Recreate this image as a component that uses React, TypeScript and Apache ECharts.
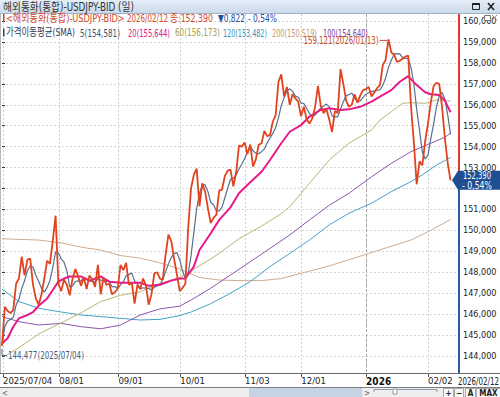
import React, { useEffect, useRef } from 'react';
import * as echarts from 'echarts';

const FONT = "'DejaVu Sans Condensed','Noto Sans CJK KR',sans-serif";

const START_DATE = '2025-07-04';
const END_DATE = '2026-02-12';
const PAD_SLOTS = ['', '', ''];

const TICK_LABELS: Record<string, string> = {
  '2025-07-04': '2025/07/04',
  '2025-08-01': '08/01',
  '2025-09-01': '09/01',
  '2025-10-01': '10/01',
  '2025-11-03': '11/03',
  '2025-12-01': '12/01',
  '2026-01-01': '2026',
  '2026-02-02': '02/02',
};
const YEAR_START = '2026-01-01';

const Y_MIN = 144;
const Y_MAX = 160;

const CLOSE = [
  144.477, 146.35, 146.15, 146.05, 146.2, 147.45, 147.7, 148.75, 147.85, 148.6,
  148.65, 147.4, 146.75, 146.45, 146.95, 147.7, 148.55, 148.4, 149.5, 150.7,
  147.45, 147.1, 147.65, 147.4, 146.9, 147.7, 148.15, 147.8, 147.35, 147.75,
  147.2, 147.85, 147.65, 147.3, 148.35, 146.95, 147.75, 147.4, 147.45, 146.95,
  147.05, 147.2, 148.35, 148.1, 148.45, 147.4, 147.5, 146.5, 147.4, 147.2,
  147.7, 147.4, 146.45, 146.95, 147.95, 148.0, 147.7, 147.65, 148.85, 149.8,
  149.5, 148.65, 147.9, 147.1, 147.25, 147.45, 150.1, 152.0, 152.65, 152.95,
  151.15, 152.25, 151.85, 151.05, 150.35, 150.6, 150.75, 151.9, 151.95, 152.6,
  152.85, 152.9, 152.1, 152.75, 154.05, 154.0, 154.2, 153.65, 154.1, 153.05,
  153.4, 154.1, 154.15, 154.75, 154.5, 154.55, 155.2, 155.5, 157.1, 157.45,
  156.4, 156.85, 156.0, 156.5, 156.3, 156.15, 155.45, 155.9, 155.3, 155.1,
  155.35, 155.9, 156.9, 155.95, 155.6, 155.8, 155.3, 154.7, 155.7, 155.6,
  157.7, 157.0, 156.2, 155.9, 156.0, 156.5, 156.1, 156.45, 156.7, 156.75,
  156.85, 156.4, 156.6, 156.8, 156.95, 157.9, 158.15, 159.121, 158.5, 158.4,
  158.05, 158.1, 158.2, 158.3, 158.35, 155.9, 154.2, 152.2, 153.3, 153.1,
  154.25, 155.1, 156.1, 156.9, 157.05, 157.0, 155.9, 154.4, 153.212, 152.39,
];

// moving averages: [trading-day index, value]
const MA20 = [
  [0, 144.6], [2, 144.85], [4, 145.4], [6, 145.8], [9, 145.96], [11, 146.1], [13, 146.4], [16, 146.75],
  [18, 147.15], [20, 147.55], [22, 147.7], [24, 147.8], [28, 147.8], [31, 147.6], [35, 147.8], [38, 147.55],
  [42, 147.5], [45, 147.5], [49, 147.5], [52, 147.35], [56, 147.4], [60, 147.6], [63, 147.7], [65, 147.7],
  [68, 148.27], [70, 149.06], [74, 149.86], [77, 150.5], [81, 151.1], [84, 151.77], [88, 152.3], [92, 152.8],
  [95, 153.36], [99, 154.16], [102, 154.71], [106, 155.03], [109, 155.43], [113, 155.75], [116, 155.83],
  [120, 155.75], [123, 155.78], [127, 155.9], [131, 156.15], [134, 156.39], [138, 156.7], [141, 157.1],
  [144, 157.37], [147, 156.94], [150, 156.6], [152, 156.5], [155, 156.47], [157, 156.2], [159, 155.644],
];
const MA60 = [
  [0, 143.9], [6, 144.4], [13, 145.05], [21, 145.58], [28, 146.06], [35, 146.6], [42, 146.9], [49, 147.07],
  [56, 147.47], [63, 147.75], [70, 148.3], [77, 148.9], [84, 149.6], [92, 150.2], [99, 150.8], [102, 151.13],
  [109, 152.25], [116, 153.36], [123, 154.16], [127, 154.48], [131, 154.8], [134, 155.27], [138, 155.67],
  [142, 156.07], [145, 156.1], [150, 156.07], [154, 156.23], [159, 156.173],
];
const MA120 = [
  [0, 147.2], [6, 146.6], [13, 146.28], [21, 146.1], [28, 145.96], [35, 145.88], [42, 145.8], [49, 145.72],
  [56, 145.75], [63, 145.93], [67, 146.1], [74, 146.5], [81, 147.0], [88, 147.55], [95, 148.27], [102, 148.9],
  [109, 149.54], [116, 150.26], [123, 150.82], [131, 151.3], [138, 151.85], [145, 152.33], [149, 152.65],
  [154, 153.12], [159, 153.482],
];
const MA200 = [
  [0, 149.6], [6, 149.57], [13, 149.54], [21, 149.4], [28, 149.2], [35, 149.06], [42, 148.8], [49, 148.67],
  [56, 148.45], [63, 148.15], [70, 147.75], [77, 147.63], [84, 147.6], [92, 147.6], [99, 147.7], [106, 147.95],
  [116, 148.3], [123, 148.6], [130, 148.9], [137, 149.2], [145, 149.54], [152, 150.0], [159, 150.519],
];
const MA100 = [
  [0, 145.88], [6, 145.64], [13, 145.48], [21, 145.56], [28, 145.4], [35, 145.3], [42, 145.48], [49, 145.96],
  [56, 146.25], [63, 146.38], [67, 146.67], [74, 147.24], [81, 147.87], [88, 148.5], [95, 149.14], [102, 149.78],
  [109, 150.5], [116, 151.2], [123, 151.77], [131, 152.56], [138, 153.2], [145, 153.76], [152, 154.16],
  [157, 154.45], [159, 154.64],
];

const LEGEND_MA = [
  { text: '5(154,581)', color: '#3e4f6e' },
  { text: '20(155,644)', color: '#e0207f' },
  { text: '60(156,173)', color: '#a7a04e' },
  { text: '120(153,482)', color: '#3596bd' },
  { text: '200(150,519)', color: '#c39a7a' },
  { text: '100(154,640)', color: '#7d3f9b' },
];
// [left x, width] of each legend entry in the reference
const LEGEND_MA_BOX = [[80, 40], [128, 42], [175, 45], [223, 44], [272, 45], [323, 45]];

const COLORS = {
  price: '#e2431f',
  ma5: '#56708f',
  ma20: '#e8198a',
  ma60: '#b9b577',
  ma120: '#45a3c9',
  ma200: '#cfab8f',
  ma100: '#8e55ad',
};

function tradingDays(start: string, end: string): string[] {
  const out: string[] = [];
  const d = new Date(start + 'T00:00:00Z');
  const e = new Date(end + 'T00:00:00Z');
  while (d <= e) {
    const w = d.getUTCDay();
    if (w !== 0 && w !== 6) out.push(d.toISOString().slice(0, 10));
    d.setUTCDate(d.getUTCDate() + 1);
  }
  return out;
}

const fmtNum = (v: number) => v.toFixed(3).replace('.', ',');

export default function App() {
  const ref = useRef<HTMLDivElement>(null);
  useEffect(() => {
    const el = ref.current!;
    const chart = echarts.init(el, null, { renderer: 'svg' });
    const dates = tradingDays(START_DATE, END_DATE);
    const cats = dates.concat(PAD_SLOTS);
    const xMax = cats.length - 1;
    const isTick = (i: number) => TICK_LABELS[cats[i]] !== undefined;
    const n = CLOSE.length;
    const last = CLOSE[n - 1];
    const prev = CLOSE[n - 2];
    const chg = prev - last;
    const pct = '- ' + ((chg / prev) * 100).toFixed(2).replace('.', ',') + '%';
    const ma5 = CLOSE.map((_, i) => {
      const s = CLOSE.slice(Math.max(0, i - 4), i + 1);
      return [i, s.reduce((a, b) => a + b, 0) / s.length];
    });
    const line = (data: number[][], color: string, width: number, z: number) => ({
      type: 'line',
      xAxisIndex: 0,
      yAxisIndex: 0,
      data,
      symbol: 'none',
      showSymbol: false,
      lineStyle: { color, width },
      z,
      silent: true,
    });

    chart.setOption({
      animation: false,
      backgroundColor: '#ffffff',
      grid: [
        { left: 2, right: 41, top: 21, bottom: 41 },
        { left: 2, right: 41, top: 14, bottom: 24 },
      ],
      xAxis: [
        { type: 'value', gridIndex: 0, min: 0, max: xMax, show: false },
        {
          type: 'category',
          gridIndex: 1,
          data: cats,
          boundaryGap: false,
          axisLine: { show: false },
          axisTick: { show: true, interval: (i: number) => isTick(i), length: 4, lineStyle: { color: '#555' } },
          axisLabel: {
            interval: (i: number) => isTick(i),
            formatter: (v: string) => (TICK_LABELS[v] === '2026' ? '{b|2026}' : TICK_LABELS[v] || ''),
            align: 'left',
            margin: 3,
            fontSize: 9.5,
            fontFamily: FONT,
            color: '#222',
            rich: { b: { fontWeight: 'bold', fontSize: 10, fontFamily: FONT, color: '#111' } },
          },
          splitLine: {
            show: true,
            interval: (i: number) => isTick(i),
            lineStyle: { color: '#cdcdcd', type: [2, 2], width: 1 },
          },
        },
      ],
      yAxis: [
        {
          type: 'value',
          gridIndex: 0,
          position: 'right',
          min: Y_MIN,
          max: Y_MAX,
          interval: 1,
          axisLine: { show: false },
          axisTick: { show: true, length: 3, lineStyle: { color: '#333' } },
          axisLabel: {
            margin: 4,
            fontSize: 9,
            fontFamily: FONT,
            color: '#222',
            formatter: (v: number) => (Math.abs(v - last) < 0.6 ? '' : fmtNum(v)),
          },
          splitLine: { show: true, lineStyle: { color: '#d6d6d6', type: [2, 2], width: 1 } },
        },
        { type: 'value', gridIndex: 1, show: false, min: 0, max: 1 },
      ],
      series: [
        line(MA200, COLORS.ma200, 1, 2),
        line(MA120, COLORS.ma120, 1, 3),
        line(MA100, COLORS.ma100, 1, 4),
        line(MA60, COLORS.ma60, 1, 5),
        line(ma5, COLORS.ma5, 1.2, 6),
        line(MA20, COLORS.ma20, 2, 7),
        line(CLOSE.map((v, i) => [i, v]), COLORS.price, 1.8, 8),
      ],
    });

    const ctx = document.createElement('canvas').getContext('2d')!;
    const measure = (text: string, size: number, weight = 'normal') => {
      ctx.font = `${weight} ${size}px ${FONT}`;
      return ctx.measureText(text).width || 1;
    };
    // text squeezed horizontally to the width it takes in the reference (narrow bitmap font)
    const T = (x: number, y: number, text: string, fill: string, size: number, width: number, extra: any = {}) => ({
      type: 'text',
      x,
      y,
      z: 100,
      silent: true,
      scaleX: Math.min(1, width / measure(text, size, extra.fontWeight || 'normal')),
      style: { text, fill, fontSize: size, fontFamily: FONT, verticalAlign: 'middle', align: 'left', ...extra },
    });

    const toPx = (x: number, y: number) =>
      chart.convertToPixel({ xAxisIndex: 0, yAxisIndex: 0 } as any, [x, y]) as number[];
    const [, ly] = toPx(n - 1, last);
    let maxI = 0;
    let minI = 0;
    CLOSE.forEach((v, i) => {
      if (v > CLOSE[maxI]) maxI = i;
      if (v < CLOSE[minI]) minI = i;
    });
    const [mxX, mxY] = toPx(maxI, CLOSE[maxI]);
    const [mnX, mnY] = toPx(minI, CLOSE[minI]);
    const [yearX] = toPx(dates.indexOf(YEAR_START), Y_MIN);
    const axisX = 459;
    const fmtDate = (s: string) => s.replace(/-/g, '/');

    const graphic: any[] = [
      // left frame
      { type: 'line', z: 90, shape: { x1: 0.5, y1: 14, x2: 0.5, y2: 373 }, style: { stroke: '#b8b8b8', lineWidth: 1 } },
      // year boundary (darker dashed)
      { type: 'line', z: 1, shape: { x1: Math.round(yearX) + 0.5, y1: 14, x2: Math.round(yearX) + 0.5, y2: 373 }, style: { stroke: '#a8a8a8', lineWidth: 1, lineDash: [3, 2] } },
      // title bar
      {
        type: 'rect', z: 95, shape: { x: 0, y: 0, width: 500, height: 13 },
        style: {
          fill: new echarts.graphic.LinearGradient(0, 0, 0, 1, [
            { offset: 0, color: '#e6eef8' },
            { offset: 1, color: '#cbd9ea' },
          ]),
        },
      },
      { type: 'line', z: 96, shape: { x1: 0, y1: 13.5, x2: 500, y2: 13.5 }, style: { stroke: '#9fb2c8', lineWidth: 1 } },
      T(3, 7, '해외통화(통합)-USDJPY-BID (일)', '#333', 11.5, 131),
      { type: 'rect', z: 100, shape: { x: 472.5, y: 3.5, width: 7, height: 6 }, style: { fill: 'none', stroke: '#222', lineWidth: 1 } },
      { type: 'line', z: 100, shape: { x1: 472.5, y1: 4, x2: 479.5, y2: 4 }, style: { stroke: '#222', lineWidth: 2 } },
      { type: 'line', z: 100, shape: { x1: 488, y1: 3, x2: 494, y2: 10 }, style: { stroke: '#222', lineWidth: 1.6 } },
      { type: 'line', z: 100, shape: { x1: 494, y1: 3, x2: 488, y2: 10 }, style: { stroke: '#222', lineWidth: 1.6 } },
      // small in-chart buttons
      { type: 'rect', z: 100, shape: { x: 484.5, y: 15.5, width: 6, height: 5 }, style: { fill: '#fff', stroke: '#777', lineWidth: 1 } },
      { type: 'line', z: 100, shape: { x1: 492, y1: 15, x2: 497, y2: 20.5 }, style: { stroke: '#888', lineWidth: 1 } },
      { type: 'line', z: 100, shape: { x1: 497, y1: 15, x2: 492, y2: 20.5 }, style: { stroke: '#888', lineWidth: 1 } },
      // legend line 1
      { type: 'rect', z: 100, shape: { x: 3, y: 14, width: 1.5, height: 8 }, style: { fill: '#d0402a' } },
      T(6, 18, '<해외통화(통합)-USDJPY-BID>', '#d24a2e', 11, 119),
      T(127, 18, fmtDate(END_DATE), '#d24a2e', 11, 41),
      T(170, 18, '종:' + fmtNum(last), '#d24a2e', 11, 43),
      T(218, 18, '▼' + fmtNum(chg), '#1f4ea6', 11, 27),
      T(248, 18, pct, '#1f4ea6', 11, 29),
      // legend line 2
      { type: 'rect', z: 100, shape: { x: 3, y: 28.5, width: 1.5, height: 8 }, style: { fill: '#2a3f6a' } },
      T(6, 32.5, '가격이동평균(SMA)', '#2c3b5c', 11, 69),
      ...LEGEND_MA.map((m, i) => T(LEGEND_MA_BOX[i][0], 32.5, m.text, m.color, 11, LEGEND_MA_BOX[i][1])),
      // right axis line (red above price, blue below)
      { type: 'rect', z: 97, shape: { x: axisX - 1, y: 14, width: 2, height: ly - 14 }, style: { fill: '#e03a2e' } },
      { type: 'rect', z: 97, shape: { x: axisX - 1, y: ly, width: 2, height: 373 - ly }, style: { fill: '#2c59a6' } },
      // price box
      {
        type: 'polygon', z: 98,
        shape: { points: [[452, ly], [458, ly - 9.5], [500, ly - 9.5], [500, ly + 9.5], [458, ly + 9.5]] },
        style: { fill: '#1f4f92' },
      },
      T(463, ly - 4.5, fmtNum(last), '#ffffff', 10, 28),
      T(462, ly + 4.5, pct, '#ffffff', 10, 30),
      // max annotation
      { type: 'line', z: 99, shape: { x1: mxX - 9, y1: mxY + 1, x2: mxX - 1, y2: mxY + 1 }, style: { stroke: '#c84a32', lineWidth: 1 } },
      T(mxX - 10, mxY + 1, fmtNum(CLOSE[maxI]) + '(' + fmtDate(dates[maxI]) + ')', '#c84a32', 10.5, 75, { align: 'right' }),
      // min annotation
      {
        type: 'polyline', z: 99,
        shape: { points: [[mnX, mnY + 3], [mnX, mnY + 9.5], [mnX + 5, mnY + 9.5]] },
        style: { stroke: '#4a5d7e', lineWidth: 1, fill: 'none' },
      },
      T(mnX + 6, mnY + 9.5, fmtNum(CLOSE[minI]) + '(' + fmtDate(dates[minI]) + ')', '#4a5d7e', 10.5, 76),
      // x axis base line and last date
      { type: 'line', z: 99, shape: { x1: 0, y1: 373.5, x2: 500, y2: 373.5 }, style: { stroke: '#6a6a6a', lineWidth: 1 } },
      T(458, 381.5, fmtDate(END_DATE), '#222', 10.5, 41),
      // bottom scroll bar
      { type: 'rect', z: 99, shape: { x: 0, y: 387, width: 500, height: 10 }, style: { fill: '#eeeeee' } },
      { type: 'line', z: 99, shape: { x1: 0, y1: 387.5, x2: 500, y2: 387.5 }, style: { stroke: '#7a7a7a', lineWidth: 1 } },
      T(2, 393, '<', '#666', 9, 6),
      { type: 'rect', z: 99, shape: { x: 249, y: 388, width: 113, height: 9 }, style: { fill: '#c6d3e4' } },
      T(364, 393, '>', '#666', 9, 6),
      { type: 'polyline', z: 99, shape: { points: [[374, 392], [374, 389.5], [437, 389.5], [437, 392]] }, style: { stroke: '#8a9bb0', lineWidth: 1, fill: 'none' } },
      { type: 'rect', z: 99, shape: { x: 393, y: 389, width: 4, height: 5 }, style: { fill: '#fff', stroke: '#8a9bb0', lineWidth: 1 } },
      ...[
        { x: 443, w: 10, t: '+' },
        { x: 454, w: 9, t: '−' },
        { x: 465, w: 10, t: 'A' },
        { x: 476, w: 24, t: 'MAX' },
      ].flatMap((b) => [
        { type: 'rect', z: 99, shape: { x: b.x + 0.5, y: 388.5, width: b.w, height: 9 }, style: { fill: '#f7f7f7', stroke: '#a9a9a9', lineWidth: 1 } },
        {
          type: 'text', z: 100, x: b.x + b.w / 2 + 0.5, y: 393.5, silent: true,
          style: { text: b.t, fill: '#222', fontSize: 8, fontFamily: FONT, fontWeight: 'bold', align: 'center', verticalAlign: 'middle' },
        },
      ]),
    ];
    chart.setOption({ graphic });
    return () => chart.dispose();
  }, []);
  return (
    <div
      ref={ref}
      style={{ position: 'fixed', left: 0, top: 0, width: 500, height: 397, background: '#fff' }}
    />
  );
}
